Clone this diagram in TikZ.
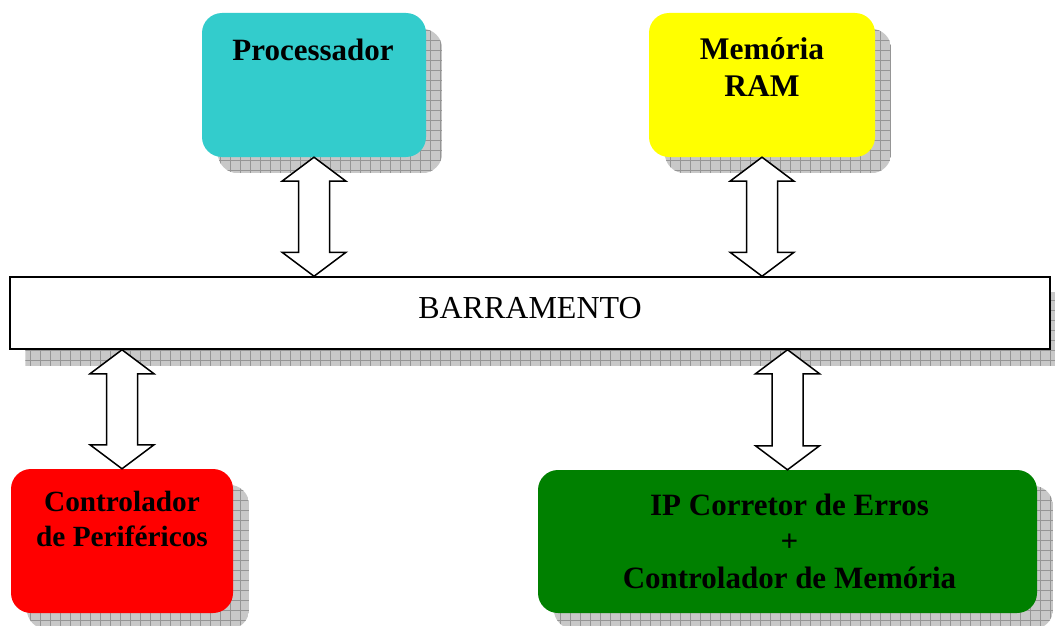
\documentclass[tikz,border=0pt]{standalone}
\usepackage{fontspec}
\setmainfont{Liberation Serif}
\usetikzlibrary{backgrounds,calc}
\definecolor{proccol}{HTML}{33CCCC}
\definecolor{ramcol}{HTML}{FFFF00}
\definecolor{perifcol}{HTML}{FF0000}
\definecolor{ipcol}{HTML}{008000}
\definecolor{shadowfill}{HTML}{C8C8C8}
\definecolor{shadowline}{HTML}{959595}
\tikzset{
  unitbox/.style={rectangle, rounded corners=20pt, inner sep=0pt, draw=none},
  boxlabel/.style 2 args={font=\bfseries\fontsize{#1}{#2}\selectfont, align=center, anchor=base, inner sep=0pt},
  buslabel/.style={font=\fontsize{32}{36}\selectfont, anchor=base, inner sep=0pt},
  busbox/.style={rectangle, draw=black, line width=1.5pt, fill=white, inner sep=0pt},
  bigarrow/.style={draw=black, line width=1.5pt, fill=white, line join=miter},
  shadowgrid/.style={draw=shadowline, line width=0.7pt},
}
\newcommand{\boxshadow}[2]{%
  \begin{scope}
    \clip[rounded corners=#2] ([shift={(16pt,-16pt)}]#1.south west) rectangle ([shift={(16pt,-16pt)}]#1.north east);
    \fill[shadowfill] ([shift={(16pt,-16pt)}]#1.south west) rectangle ([shift={(16pt,-16pt)}]#1.north east);
    \draw[shadowgrid, step=10pt] ([shift={(16pt,-16pt)}]#1.south west) grid ([shift={(16pt,-16pt)}]#1.north east);
  \end{scope}}
\newcommand{\dblarrow}[2]{%
  \draw[bigarrow] let \p1=(#1), \p2=(#2) in
    (\x1,\y1) -- (\x1+32pt,\y1-24pt) -- (\x1+15.5pt,\y1-24pt) -- (\x1+15.5pt,\y2+24pt)
    -- (\x1+32pt,\y2+24pt) -- (\x1,\y2) -- (\x1-32pt,\y2+24pt) -- (\x1-15.5pt,\y2+24pt)
    -- (\x1-15.5pt,\y1-24pt) -- (\x1-32pt,\y1-24pt) -- cycle;}
\begin{document}
\begin{tikzpicture}[x=1pt, y=-1pt]
\useasboundingbox (0,0) rectangle (1055,626);
% boxes
\node[unitbox, fill=proccol, minimum width=224pt, minimum height=144pt] (proc) at (314,85) {};
\node[unitbox, fill=ramcol, minimum width=226pt, minimum height=144pt] (ram) at (762,85) {};
\node[busbox, minimum width=1040pt, minimum height=72pt] (bus) at (530,313) {};
\node[unitbox, fill=perifcol, minimum width=222pt, minimum height=144pt] (perif) at (122,541) {};
\node[unitbox, fill=ipcol, minimum width=499pt, minimum height=143pt] (ip) at (787.5,541.5) {};
% labels (anchor=base is the baseline of the last line)
\node[boxlabel={31}{36.7}] (proclbl) at ([xshift=-1pt,yshift=-47.5pt]proc.north) {Processador};
\node[boxlabel={31.5}{36.7}] (ramlbl) at ([yshift=-83.7pt]ram.north) {Memória\\RAM};
\node[buslabel] (buslbl) at ([yshift=-5pt]bus.center) {BARRAMENTO};
\node[boxlabel={29.3}{35}] (periflbl) at ([yshift=-77.7pt]perif.north) {Controlador\\de Periféricos};
\node[boxlabel={31}{36.5}] (iplbl) at ([xshift=2pt,yshift=-118.3pt]ip.north) {IP Corretor de Erros\\+\\Controlador de Memória};
% shadows
\begin{scope}[on background layer]
  \fill[white] (0,0) rectangle (1055,626);
  \boxshadow{proc}{20pt}
  \boxshadow{ram}{20pt}
  \boxshadow{bus}{0pt}
  \boxshadow{perif}{20pt}
  \boxshadow{ip}{20pt}
\end{scope}
% connectors
\dblarrow{proc.south}{proc.south |- bus.north}
\dblarrow{ram.south}{ram.south |- bus.north}
\dblarrow{perif.north |- bus.south}{perif.north}
\dblarrow{ip.north |- bus.south}{ip.north}
\end{tikzpicture}
\end{document}
